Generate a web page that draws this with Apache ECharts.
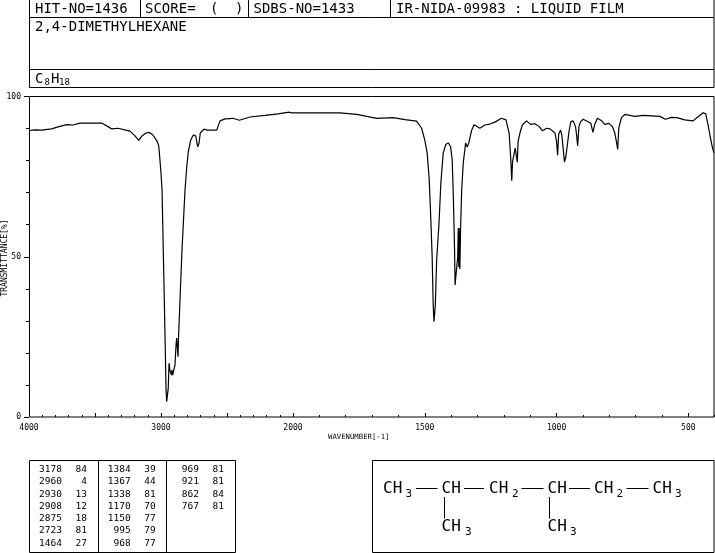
<!DOCTYPE html>
<html>
<head>
<meta charset="utf-8">
<title>2,4-DIMETHYLHEXANE IR</title>
<script src="https://cdn.jsdelivr.net/npm/echarts@6/dist/echarts.min.js"></script>
<style>
  html, body { margin: 0; padding: 0; background: #fff; }
  #chart { width: 715px; height: 553px; }
</style>
</head>
<body>
<div id="chart"></div>
<script>
// spectrum, 4000-2000 part of the axis (compressed scale)
const highWave = [4000,3955,3904,3828,3780,3714,3667,3614,3449,3373,3326,3235,3197,3169,3144,3114,3087,3061,3030,3017,3008,3000,2992,2989,2975,2967,2962,2957,2945,2939,2932,2924,2920,2917,2912,2902,2894,2886,2881,2871,2868,2864,2856,2841,2818,2805,2793,2775,2755,2737,2722,2712,2702,2674,2649,2578,2553,2515,2455,2407,2326,2212,2111,2028,2010,2000];
const highT = [89.4,89.6,89.5,89.9,90.5,91.2,91.1,91.7,91.7,89.9,90.1,89.2,87.7,86.3,87.7,88.6,88.8,88.0,86.1,84.6,80.2,76.1,70.8,64.6,36.5,20.0,9.0,4.8,9.0,16.8,14.4,14.7,13.1,14.7,13.1,12.6,16.2,22.5,24.6,18.8,24.0,24.0,36.5,52.1,70.8,78.1,82.8,86.4,88.0,87.7,84.3,85.5,88.7,89.8,89.5,89.5,92.4,93.0,93.2,92.6,93.6,94.1,94.6,95.1,94.9,94.9];

// spectrum, 2000-400 part of the axis
const lowWave = [2000,1822,1815,1758,1683,1620,1575,1531,1512,1500,1491,1483,1477,1472,1468,1465,1460,1455,1446,1439,1430,1420,1410,1402,1396,1392,1387,1385,1381,1375,1373,1371,1369.5,1367,1364,1360,1354,1345,1339,1333,1322,1313,1291,1272,1253,1234,1209,1192,1180,1174,1170,1167,1162,1157,1153,1149,1146,1139,1130,1114,1099,1082,1066,1053,1038,1025,1006,1000,996,992,985,980,975,970,965,960,953,946,937,928,924,920,915,909,899,880,870,862,856,845,829,817,801,788,779,772,768,764,754,741,722,703,672,608,587,564,543,514,482,463,444,434,425,416,408,403];
const lowT = [94.9,94.9,95.1,94.4,93.2,93.4,92.8,92.3,90.1,86.4,82.4,73.9,61.5,50.0,34.9,29.7,34.9,49.0,60.5,73.0,82.4,85.1,85.5,84.3,80.2,69.9,52.1,41.2,44.9,50.0,59.0,46.8,59.0,46.2,59.4,70.8,79.3,85.5,84.2,85.5,89.5,91.2,90.1,91.1,91.4,92.0,93.2,92.7,88.6,80.8,73.7,79.7,81.7,83.9,83.3,79.5,85.9,88.6,91.1,92.4,91.3,91.5,90.6,89.3,90.1,89.9,88.6,85.9,81.7,88.2,89.5,88.0,83.9,79.5,81.2,84.3,89.0,92.1,92.4,90.6,88.0,84.6,90.6,92.1,92.9,92.1,91.6,88.8,91.1,93.2,92.4,91.3,91.6,90.6,88.6,85.5,83.5,90.1,93.4,94.4,94.1,93.8,94.1,93.8,92.9,93.5,93.4,92.7,92.4,93.7,94.9,94.6,91.1,87.0,83.8,82.5];

const highMajor = [4000,3500,3000,2500,2000];
const lowMajor = [2000,1500,1000,500];
const highLabels = [4000,3000,2000];
const lowLabels = [1500,1000,500];
const yTicks = [0,50,100];

// peak table, one list per column
const peakCols = [
  [['3178','84'],['2960','4'],['2930','13'],['2908','12'],['2875','18'],['2723','81'],['1464','27']],
  [['1384','39'],['1367','44'],['1338','81'],['1170','70'],['1150','77'],['995','79'],['968','77']],
  [['969','81'],['921','81'],['862','84'],['767','81']]
];

const mono = '"DejaVu Sans Mono",monospace';
const zip = (a, b) => a.map((v, i) => [v, b[i]]);

function txt(text, x, y, size, align) {
  return {
    type: 'text', x: x, y: y, silent: true,
    style: { text: text, font: size + 'px ' + mono, fill: '#000', textAlign: align || 'left', textVerticalAlign: 'middle' }
  };
}
function line(x1, y1, x2, y2) {
  return { type: 'line', silent: true, shape: { x1: x1, y1: y1, x2: x2, y2: y2 }, style: { stroke: '#000', lineWidth: 1 } };
}
function box(x, y, w, h) {
  return { type: 'rect', silent: true, shape: { x: x, y: y, width: w, height: h }, style: { stroke: '#000', fill: 'none', lineWidth: 1 } };
}

const graphics = [
  // header
  box(29.5, -1, 684.5, 88.5),
  line(29.5, 17.5, 714, 17.5),
  line(29.5, 69.5, 714, 69.5),
  line(140.5, 0, 140.5, 17.5),
  line(248.5, 0, 248.5, 17.5),
  line(390.5, 0, 390.5, 17.5),
  txt('HIT-NO=1436', 35, 9.5, 14),
  txt('SCORE=', 145, 9.5, 14),
  txt('(', 210, 9.5, 14),
  txt(')', 235, 9.5, 14),
  txt('SDBS-NO=1433', 253.5, 9.5, 14),
  txt('IR-NIDA-09983 : LIQUID FILM', 396, 9.5, 14),
  txt('2,4-DIMETHYLHEXANE', 35, 27.5, 14),
  txt('C', 35, 79.5, 14),
  txt('8', 44.5, 83, 9),
  txt('H', 51, 79.5, 14),
  txt('18', 59, 83, 9),
  // plot frame
  box(29.5, 96.5, 684.5, 320.5),
  // axis titles
  txt('WAVENUMBER[-1]', 328, 437.5, 7.3),
  {
    type: 'text', x: 4.5, y: 258, rotation: Math.PI / 2, silent: true,
    style: { text: 'TRANSMITTANCE[%]', font: '8px ' + mono, fill: '#000', textAlign: 'center', textVerticalAlign: 'middle' }
  },
  // peak table
  box(29.5, 460.5, 206, 92),
  line(98.5, 460.5, 98.5, 552.5),
  line(166.5, 460.5, 166.5, 552.5),
  // structure
  box(372.5, 460.5, 341.5, 92),
  line(416, 488.5, 437.5, 488.5),
  line(464, 488.5, 484, 488.5),
  line(521.5, 488.5, 543.5, 488.5),
  line(569, 488.5, 590, 488.5),
  line(626.5, 488.5, 648.5, 488.5),
  line(444.5, 497, 444.5, 518.5),
  line(549.5, 497, 549.5, 518.5),
  txt('CH', 383, 488.5, 16), txt('3', 405.5, 494, 11),
  txt('CH', 441.5, 488.5, 16),
  txt('CH', 489, 488.5, 16), txt('2', 512, 494, 11),
  txt('CH', 547.5, 488.5, 16),
  txt('CH', 594, 488.5, 16), txt('2', 616.5, 494, 11),
  txt('CH', 652.5, 488.5, 16), txt('3', 675, 494, 11),
  txt('CH', 441.5, 527, 16), txt('3', 465, 532, 11),
  txt('CH', 547.5, 527, 16), txt('3', 570, 532, 11)
];

const waveRight = [62, 130.7, 199];
const valueRight = [87, 155.7, 224];
peakCols.forEach((col, c) => {
  col.forEach((row, r) => {
    const y = 469.5 + r * 12.3;
    graphics.push(txt(row[0], waveRight[c], y, 9.5, 'right'));
    graphics.push(txt(row[1], valueRight[c], y, 9.5, 'right'));
  });
});

const minorX = (grid, min, max) => ({
  type: 'value', gridIndex: grid, position: 'bottom', inverse: true, min: min, max: max, interval: 100,
  axisLine: { show: false },
  axisTick: { show: true, inside: true, length: 2, lineStyle: { color: '#000' } },
  axisLabel: { show: false },
  splitLine: { show: false }
});
const majorX = (grid, min, max, ticks, labels) => ({
  type: 'value', gridIndex: grid, position: 'bottom', inverse: true, min: min, max: max,
  axisLine: { show: false },
  axisTick: { show: true, inside: true, length: 4, customValues: ticks, lineStyle: { color: '#000' } },
  axisLabel: { show: true, customValues: labels, formatter: v => String(v), margin: 7, color: '#000', fontFamily: mono, fontSize: 8, hideOverlap: false, showMinLabel: true, showMaxLabel: true },
  splitLine: { show: false }
});

const option = {
  animation: false,
  backgroundColor: '#fff',
  grid: [
    { left: 29, top: 96.5, width: 264, height: 320.5 },
    { left: 293, top: 96.5, width: 421.7, height: 320.5 }
  ],
  xAxis: [
    minorX(0, 2000, 4000),
    majorX(0, 2000, 4000, highMajor, highLabels),
    minorX(1, 400, 2000),
    majorX(1, 400, 2000, lowMajor, lowLabels)
  ],
  yAxis: [
    {
      type: 'value', gridIndex: 0, position: 'left', min: 0, max: 100,
      axisLine: { show: false },
      axisTick: { show: true, length: 5, customValues: yTicks, lineStyle: { color: '#000' } },
      minorTick: { show: false },
      axisLabel: { show: true, customValues: yTicks, margin: 8, color: '#000', fontFamily: mono, fontSize: 8 },
      splitLine: { show: false }
    },
    {
      type: 'value', gridIndex: 0, min: 0, max: 100, interval: 10, position: 'left',
      axisLine: { show: false },
      axisTick: { show: true, length: 3, lineStyle: { color: '#000' } },
      axisLabel: { show: false },
      splitLine: { show: false }
    },
    {
      type: 'value', gridIndex: 1, min: 0, max: 100,
      axisLine: { show: false }, axisTick: { show: false }, axisLabel: { show: false }, splitLine: { show: false }
    }
  ],
  series: [
    {
      type: 'line', xAxisIndex: 0, yAxisIndex: 0, data: zip(highWave, highT), showSymbol: false, silent: true,
      lineStyle: { color: '#000', width: 1.2 }
    },
    {
      type: 'line', xAxisIndex: 2, yAxisIndex: 2, data: zip(lowWave, lowT), showSymbol: false, silent: true,
      lineStyle: { color: '#000', width: 1.2 }
    }
  ],
  graphic: graphics
};

const myChart = echarts.init(document.getElementById('chart'), null, { renderer: 'canvas' });
myChart.setOption(option);
</script>
</body>
</html>
